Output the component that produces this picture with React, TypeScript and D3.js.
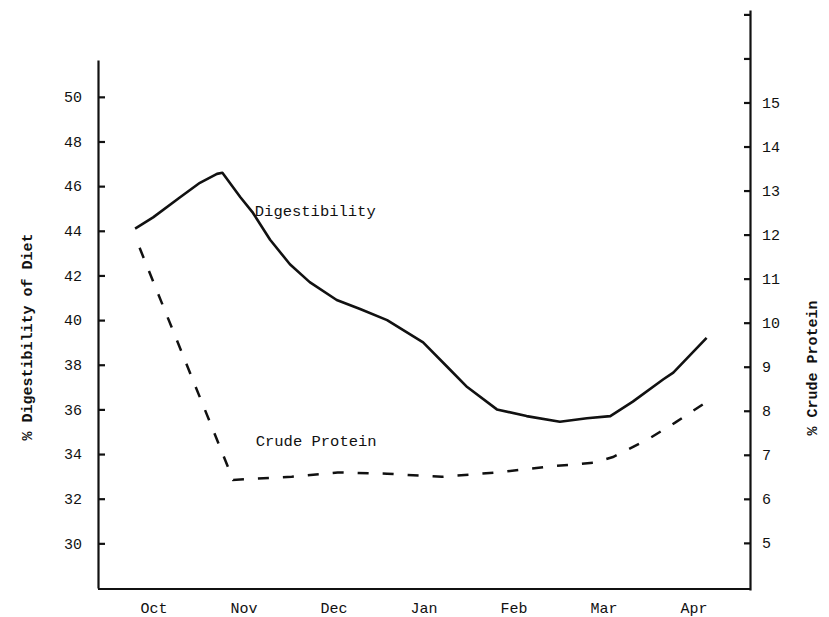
import * as d3 from 'd3';
import { useEffect, useRef } from 'react';

// months on the x axis (index 0 = Oct)
const months = ['Oct', 'Nov', 'Dec', 'Jan', 'Feb', 'Mar', 'Apr'];

// % digestibility of diet (left axis), [month index, value]
const digestibility: [number, number][] = [
  [-0.21, 44.1], [-0.01, 44.6], [0.29, 45.5], [0.51, 46.15], [0.7, 46.55], [0.76, 46.6],
  [0.96, 45.5], [1.1, 44.8], [1.29, 43.6], [1.51, 42.5], [1.73, 41.7],
  [2.03, 40.9], [2.29, 40.5], [2.59, 40.0], [2.99, 39.0], [3.26, 37.9],
  [3.48, 37.0], [3.81, 36.0], [4.14, 35.7], [4.51, 35.45], [4.81, 35.6],
  [5.07, 35.7], [5.32, 36.35], [5.66, 37.35], [5.77, 37.65], [6.14, 39.2],
];

// % crude protein (right axis), [month index, value]
const crudeProtein: [number, number][] = [
  [-0.16, 11.7], [0.88, 6.43], [1.53, 6.5], [2.04, 6.6], [2.59, 6.57],
  [3.2, 6.5], [3.81, 6.6], [4.37, 6.73], [4.88, 6.82], [5.1, 6.95],
  [5.48, 7.34], [5.79, 7.73], [6.14, 8.2],
];

const leftTicks = [30, 32, 34, 36, 38, 40, 42, 44, 46, 48, 50];
const rightTicks = [5, 6, 7, 8, 9, 10, 11, 12, 13, 14, 15, 16, 17];
const rightLabels = [5, 6, 7, 8, 9, 10, 11, 12, 13, 14, 15];

const FONT = '"Liberation Mono", "DejaVu Sans Mono", monospace';
const INK = '#111';

export default function App() {
  const ref = useRef<SVGSVGElement>(null);

  useEffect(() => {
    const svg = d3.select(ref.current);
    svg.selectAll('*').remove();

    const left = 98;
    const right = 750;
    const bottom = 589;

    const x = d3.scaleLinear().domain([0, 6]).range([154, 694]);
    const yL = d3.scaleLinear().domain([28.0, 51.65]).range([588, 60]);
    const yR = d3.scaleLinear().domain([3.93, 17.1]).range([590, 10]);

    // left axis
    const gL = svg
      .append('g')
      .attr('transform', `translate(${left},0)`)
      .call(
        d3
          .axisLeft(yL)
          .tickValues(leftTicks)
          .tickSizeInner(-7)
          .tickSizeOuter(0)
          .tickPadding(16)
          .tickFormat(d3.format('d'))
      );
    gL.select('.domain').attr('stroke', INK).attr('stroke-width', 2.2);
    gL.selectAll('.tick line').attr('stroke', INK).attr('stroke-width', 2.2);
    gL.selectAll('.tick text')
      .attr('font-family', FONT)
      .attr('font-size', 15)
      .attr('fill', INK);

    // right axis
    const gR = svg
      .append('g')
      .attr('transform', `translate(${right},0)`)
      .call(
        d3
          .axisRight(yR)
          .tickValues(rightTicks)
          .tickSizeInner(-6)
          .tickSizeOuter(0)
          .tickPadding(12)
          .tickFormat((d) => (rightLabels.includes(+d) ? String(d) : ''))
      );
    gR.select('.domain').attr('stroke', INK).attr('stroke-width', 2.2);
    gR.selectAll('.tick line').attr('stroke', INK).attr('stroke-width', 2.2);
    gR.selectAll('.tick text')
      .attr('font-family', FONT)
      .attr('font-size', 15)
      .attr('fill', INK);

    // bottom axis
    svg
      .append('line')
      .attr('x1', left)
      .attr('x2', right + 1)
      .attr('y1', bottom)
      .attr('y2', bottom)
      .attr('stroke', INK)
      .attr('stroke-width', 2.2);

    svg
      .append('g')
      .selectAll('text')
      .data(months)
      .join('text')
      .attr('x', (_, i) => x(i))
      .attr('y', 613)
      .attr('text-anchor', 'middle')
      .attr('font-family', FONT)
      .attr('font-size', 15)
      .attr('fill', INK)
      .text((d) => d);

    // axis titles
    svg
      .append('text')
      .attr('transform', 'translate(32,337) rotate(-90)')
      .attr('text-anchor', 'middle')
      .attr('font-family', FONT)
      .attr('font-size', 15)
      .attr('font-weight', 'bold')
      .attr('fill', INK)
      .text('% Digestibility of Diet');

    svg
      .append('text')
      .attr('transform', 'translate(817,368) rotate(-90)')
      .attr('text-anchor', 'middle')
      .attr('font-family', FONT)
      .attr('font-size', 15)
      .attr('font-weight', 'bold')
      .attr('fill', INK)
      .text('% Crude Protein');

    // lines
    const lineL = d3
      .line<[number, number]>()
      .x((d) => x(d[0]))
      .y((d) => yL(d[1]));
    const lineR = d3
      .line<[number, number]>()
      .x((d) => x(d[0]))
      .y((d) => yR(d[1]));

    svg
      .append('path')
      .datum(digestibility)
      .attr('d', lineL)
      .attr('fill', 'none')
      .attr('stroke', INK)
      .attr('stroke-width', 2.6)
      .attr('stroke-linejoin', 'round');

    svg
      .append('path')
      .datum(crudeProtein)
      .attr('d', lineR)
      .attr('fill', 'none')
      .attr('stroke', INK)
      .attr('stroke-width', 2.5)
      .attr('stroke-dasharray', '11 14');

    // series labels
    svg
      .append('text')
      .attr('x', x(1.12))
      .attr('y', yL(44.68))
      .attr('font-family', FONT)
      .attr('font-size', 15.5)
      .attr('fill', INK)
      .text('Digestibility');

    svg
      .append('text')
      .attr('x', x(1.13))
      .attr('y', yR(7.2))
      .attr('font-family', FONT)
      .attr('font-size', 15.5)
      .attr('fill', INK)
      .text('Crude Protein');
  }, []);

  return (
    <div style={{ position: 'absolute', left: 0, top: 0 }}>
      <svg ref={ref} width={829} height={617} style={{ display: 'block', background: '#fff' }} />
    </div>
  );
}
